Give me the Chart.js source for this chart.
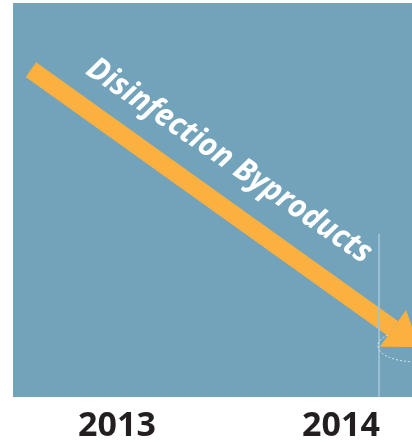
<!DOCTYPE html>
<html>
<head>
<meta charset="utf-8">
<script src="https://cdn.jsdelivr.net/npm/chart.js@4"></script>
<style>
  html, body { margin: 0; padding: 0; background: #fff; }
  canvas { display: block; }
</style>
</head>
<body>
<canvas id="trend" width="412" height="442"></canvas>
<script>
// tick labels on the x axis
const years = [2013, 2014]
// the big downward arrow (start, head base)
const arrowX = [2012.616, 2014.232]
const arrowY = [83.1, 17.4]
// thin vertical marker line
const markerX = [2014.17, 2014.17]
const markerY = [41.4, 0]
// dashed ring round the arrow head
const ringX = [2014.33]
const ringY = [13]
// caption along the arrow
const caption = 'Disinfection Byproducts'
const captionX = 2013.5
const captionY = 59.9

const bgColor = '#72a3ba'
const arrowColor = '#fbb040'

const trendPlugin = {
  id: 'trend',
  beforeDraw(chart) {
    const { ctx, chartArea: a } = chart
    ctx.save()
    ctx.fillStyle = bgColor
    ctx.fillRect(a.left, a.top, a.right - a.left, a.bottom - a.top)
    ctx.restore()
  },
  afterDatasetsDraw(chart) {
    const { ctx, chartArea: a, scales } = chart
    const pts = chart.getDatasetMeta(1).data
    const p0 = pts[0], p1 = pts[pts.length - 1]
    const ang = Math.atan2(p1.y - p0.y, p1.x - p0.x)
    ctx.save()
    ctx.beginPath()
    ctx.rect(a.left, a.top, a.right - a.left, a.bottom - a.top)
    ctx.clip()

    // dashed ring
    const rx = scales.x.getPixelForValue(ringX[0])
    const ry = scales.y.getPixelForValue(ringY[0])
    ctx.beginPath()
    ctx.ellipse(rx, ry, 37, 16, 0, 0, Math.PI * 2)
    ctx.setLineDash([2, 2])
    ctx.lineWidth = 1
    ctx.strokeStyle = 'rgba(225,238,245,0.9)'
    ctx.stroke()
    ctx.setLineDash([])

    // arrow head
    const cos = Math.cos(ang), sin = Math.sin(ang)
    const half = 22.6, len = 32
    ctx.beginPath()
    ctx.moveTo(p1.x - sin * half, p1.y + cos * half)
    ctx.lineTo(p1.x + sin * half, p1.y - cos * half)
    ctx.lineTo(p1.x + cos * len, p1.y + sin * len)
    ctx.closePath()
    ctx.fillStyle = arrowColor
    ctx.fill()

    // caption, squeezed to look condensed
    const cx = scales.x.getPixelForValue(captionX)
    const cy = scales.y.getPixelForValue(captionY)
    ctx.translate(cx, cy)
    ctx.rotate(ang - 0.02)
    ctx.font = 'italic bold 32px "Open Sans", "DejaVu Sans", sans-serif'
    const sx = 338 / ctx.measureText(caption).width
    ctx.scale(sx, 1)
    ctx.fillStyle = '#ffffff'
    ctx.textAlign = 'center'
    ctx.textBaseline = 'middle'
    ctx.fillText(caption, 0, 0)
    ctx.restore()
  }
}

const ctx = document.getElementById('trend')
new Chart(ctx, {
  type: 'scatter',
  data: {
    datasets: [
      {
        data: markerX.map((x, i) => ({ x, y: markerY[i] })),
        showLine: true,
        borderColor: '#9fc3d5',
        borderWidth: 1,
        pointRadius: 0,
      },
      {
        data: arrowX.map((x, i) => ({ x, y: arrowY[i] })),
        showLine: true,
        borderColor: arrowColor,
        borderWidth: 18,
        borderCapStyle: 'butt',
        pointRadius: 0,
      },
    ],
  },
  options: {
    responsive: false,
    animation: false,
    events: [],
    layout: { padding: { left: 13, top: 3, right: 0, bottom: -13 } },
    plugins: { legend: { display: false }, tooltip: { enabled: false } },
    scales: {
      x: {
        type: 'linear',
        min: 2012.536,
        max: 2014.317,
        afterBuildTicks: axis => { axis.ticks = years.map(v => ({ value: v })) },
        grid: { display: false, drawTicks: false },
        border: { display: false },
        ticks: {
          padding: 13,
          maxRotation: 0,
          color: '#231f20',
          font: { family: '"Open Sans", sans-serif', size: 34, weight: 'bold', lineHeight: 0.94 },
          callback: v => String(v),
        },
      },
      y: { display: false, min: 0, max: 100 },
    },
  },
  plugins: [trendPlugin],
})
</script>
</body>
</html>
